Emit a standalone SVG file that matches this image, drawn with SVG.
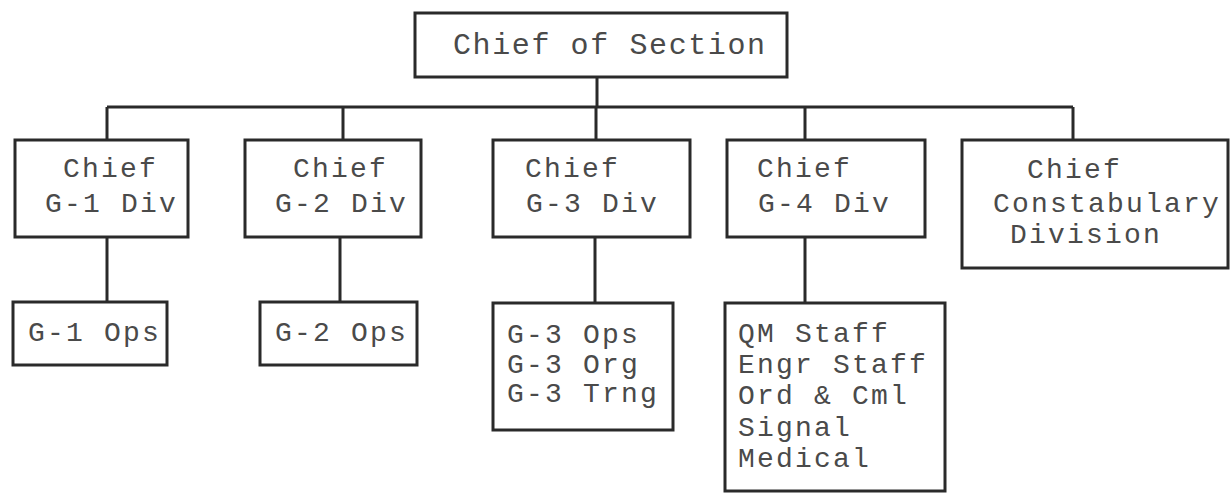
<svg xmlns="http://www.w3.org/2000/svg" width="1231" height="493" viewBox="0 0 1231 493">
<style>
.box{fill:#fff;stroke:#2a2a2a;stroke-width:3}
.ln{fill:none;stroke:#2a2a2a;stroke-width:3}
text{font-family:"Liberation Mono","DejaVu Sans Mono",monospace;font-size:28px;letter-spacing:2.2px;fill:#4a4a4a}
.big{font-size:30px;letter-spacing:1.6px}
</style>
<rect width="1231" height="493" fill="#fff"/>
<g id="connectors">
<path class="ln" d="M597 77V107M107 107H1073M107 107V140M343 107V140M596 107V140M805 107V140M1073 107V140"/>
<path class="ln" d="M107 237V302M340 237V302M595 237V303M805 237V303"/>
</g>
<g id="chief-section">
<rect class="box" x="415" y="13" width="372" height="64"/>
<text class="big" x="453" y="54">Chief of Section</text>
</g>
<g id="g1-div">
<rect class="box" x="15" y="140" width="173" height="97"/>
<text x="63" y="177">Chief</text>
<text x="45" y="212">G-1 Div</text>
</g>
<g id="g2-div">
<rect class="box" x="245" y="140" width="176" height="97"/>
<text x="293" y="177">Chief</text>
<text x="275" y="212">G-2 Div</text>
</g>
<g id="g3-div">
<rect class="box" x="493" y="140" width="197" height="97"/>
<text x="525" y="177">Chief</text>
<text x="526" y="212">G-3 Div</text>
</g>
<g id="g4-div">
<rect class="box" x="727" y="140" width="198" height="97"/>
<text x="757" y="177">Chief</text>
<text x="758" y="212">G-4 Div</text>
</g>
<g id="constabulary">
<rect class="box" x="962" y="140" width="266" height="128"/>
<text x="1027" y="178">Chief</text>
<text x="993" y="212">Constabulary</text>
<text x="1010" y="243">Division</text>
</g>
<g id="g1-ops">
<rect class="box" x="13" y="302" width="154" height="63"/>
<text x="28" y="341">G-1 Ops</text>
</g>
<g id="g2-ops">
<rect class="box" x="260" y="302" width="157" height="63"/>
<text x="275" y="341">G-2 Ops</text>
</g>
<g id="g3-sub">
<rect class="box" x="493" y="303" width="180" height="127"/>
<text x="507" y="343">G-3 Ops</text>
<text x="507" y="373">G-3 Org</text>
<text x="507" y="402">G-3 Trng</text>
</g>
<g id="g4-sub">
<rect class="box" x="725" y="303" width="220" height="188"/>
<text x="738" y="342">QM Staff</text>
<text x="738" y="373">Engr Staff</text>
<text x="738" y="404">Ord &amp; Cml</text>
<text x="738" y="436">Signal</text>
<text x="738" y="467">Medical</text>
</g>
</svg>
